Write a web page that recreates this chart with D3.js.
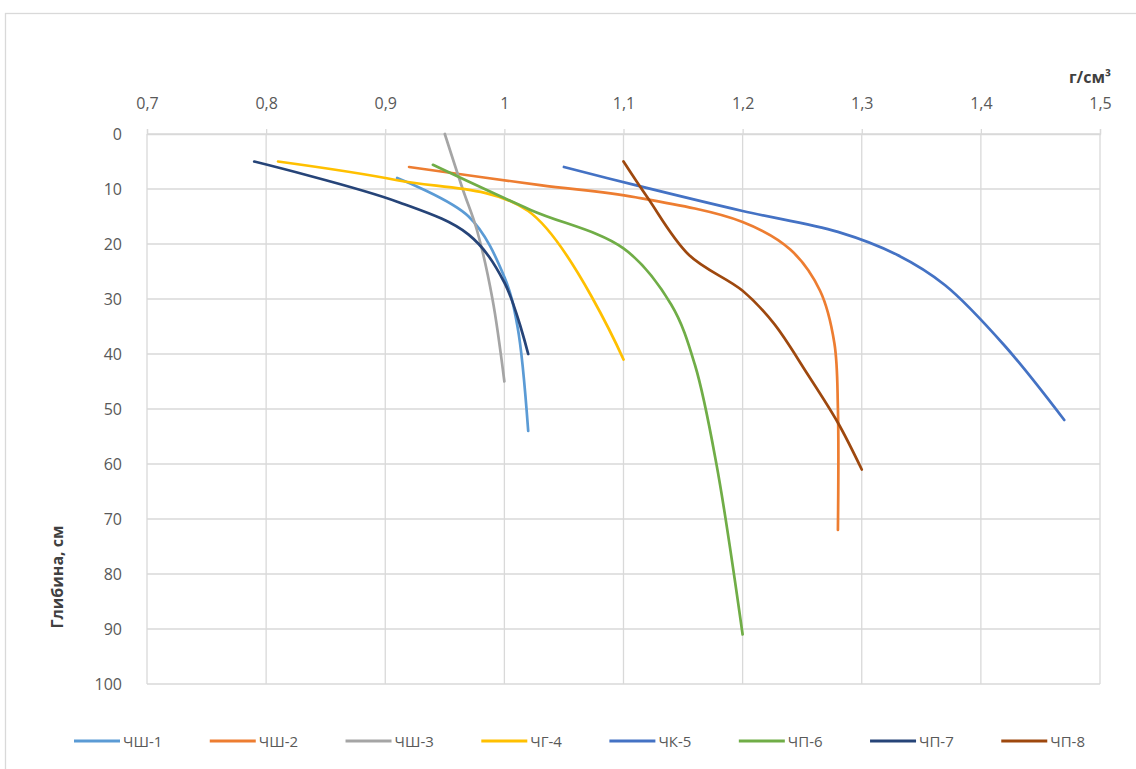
<!DOCTYPE html>
<html>
<head>
<meta charset="utf-8">
<script src="https://cdn.jsdelivr.net/npm/d3@7"></script>
<style>
  html, body { margin: 0; padding: 0; background: #fff; }
  svg { display: block; font-family: "Open Sans", "Noto Sans", sans-serif; }
</style>
</head>
<body>
<svg id="chart" width="1136" height="769"></svg>
<script>
// ---- Data ----
const seriesNames = ["ЧШ-1", "ЧШ-2", "ЧШ-3", "ЧГ-4", "ЧК-5", "ЧП-6", "ЧП-7", "ЧП-8"];
const seriesColors = ["#5B9BD5", "#ED7D31", "#A5A5A5", "#FFC000", "#4472C4", "#70AD47", "#264478", "#9E480E"];

const chsh1Density = [0.91, 0.97, 1.0, 1.011, 1.02];
const chsh1Depth   = [8, 15, 26, 35, 54];
const chsh2Density = [0.92, 1.03, 1.11, 1.2, 1.24, 1.265, 1.277, 1.28, 1.28];
const chsh2Depth   = [6, 9.3, 11.5, 16, 21, 28.5, 38, 50, 72];
const chsh3Density = [0.95, 0.965, 0.977, 0.99, 1.0];
const chsh3Depth   = [0, 10, 17.5, 30, 45];
const chg4Density  = [0.81, 0.91, 1.02, 1.1];
const chg4Depth    = [5, 8.4, 14, 41];
const chk5Density  = [1.05, 1.11, 1.2, 1.28, 1.33, 1.37, 1.42, 1.47];
const chk5Depth    = [6, 9.3, 14, 17.8, 22, 27.5, 38.5, 52];
const chp6Density  = [0.94, 1.022, 1.1, 1.14, 1.16, 1.178, 1.2];
const chp6Depth    = [5.6, 13.8, 20.8, 31, 42, 60, 91];
const chp7Density  = [0.79, 0.91, 0.97, 1.0, 1.02];
const chp7Depth    = [5, 12.3, 18.3, 27, 40];
const chp8Density  = [1.1, 1.12, 1.155, 1.2, 1.226, 1.254, 1.28, 1.3];
const chp8Depth    = [5, 11.5, 22, 28.5, 34.4, 43.5, 52.5, 61];

const seriesDensity = [chsh1Density, chsh2Density, chsh3Density, chg4Density, chk5Density, chp6Density, chp7Density, chp8Density];
const seriesDepth   = [chsh1Depth, chsh2Depth, chsh3Depth, chg4Depth, chk5Depth, chp6Depth, chp7Depth, chp8Depth];

const xTickValues = [0.7, 0.8, 0.9, 1.0, 1.1, 1.2, 1.3, 1.4, 1.5];
const xTickLabels = ["0,7", "0,8", "0,9", "1", "1,1", "1,2", "1,3", "1,4", "1,5"];
const yTickValues = [0, 10, 20, 30, 40, 50, 60, 70, 80, 90, 100];
const xAxisUnit = "г/см³";
const yAxisTitle = "Глибина, см";

// ---- Layout ----
const svg = d3.select("#chart");
const plotLeft = 147, plotRight = 1100, plotTop = 134, plotBottom = 684;
const fontStack = "'Open Sans', 'Noto Sans', sans-serif";

const x = d3.scaleLinear().domain([0.7, 1.5]).range([plotLeft, plotRight]);
const y = d3.scaleLinear().domain([0, 100]).range([plotTop, plotBottom]);

// chart border
svg.append("rect")
  .attr("x", 5.5).attr("y", 13.5)
  .attr("width", 1140).attr("height", 770)
  .attr("fill", "#fff").attr("stroke", "#d9d9d9").attr("stroke-width", 1.3);

// gridlines
const grid = svg.append("g");
grid.selectAll("line.h").data(yTickValues).join("line")
  .attr("class", "h")
  .attr("x1", plotLeft).attr("x2", plotRight)
  .attr("y1", d => y(d)).attr("y2", d => y(d))
  .attr("stroke", "#d9d9d9").attr("stroke-width", 1.3);
grid.selectAll("line.v").data(xTickValues).join("line")
  .attr("class", "v")
  .attr("x1", d => x(d)).attr("x2", d => x(d))
  .attr("y1", plotTop).attr("y2", plotBottom)
  .attr("stroke", "#d9d9d9").attr("stroke-width", 1.3);

// top axis
const xAxis = d3.axisTop(x)
  .tickValues(xTickValues)
  .tickFormat((d, i) => xTickLabels[i])
  .tickSize(5).tickPadding(20);
const gx = svg.append("g").attr("transform", `translate(0,${plotTop})`).call(xAxis);
gx.select(".domain").attr("stroke", "#d9d9d9").attr("stroke-width", 1.3);
gx.selectAll(".tick line").attr("stroke", "#d9d9d9").attr("stroke-width", 1.3);
gx.selectAll(".tick text").attr("fill", "#595959").attr("font-size", 16)
  .attr("font-family", fontStack);

// left axis
const yAxis = d3.axisLeft(y).tickValues(yTickValues).tickSize(0).tickPadding(25);
const gy = svg.append("g").attr("transform", `translate(${plotLeft},0)`).call(yAxis);
gy.select(".domain").remove();
gy.selectAll(".tick text").attr("fill", "#595959").attr("font-size", 16)
  .attr("font-family", fontStack);

// axis titles
svg.append("text")
  .attr("x", 1090).attr("y", 83)
  .attr("text-anchor", "middle")
  .attr("font-size", 16).attr("font-weight", "bold").attr("fill", "#404040")
  .text(xAxisUnit);
svg.append("text")
  .attr("transform", "translate(63,577) rotate(-90)")
  .attr("text-anchor", "middle")
  .attr("font-size", 16).attr("font-weight", "bold").attr("fill", "#404040")
  .text(yAxisTitle);

// series lines
const line = d3.line()
  .x(d => x(d[0])).y(d => y(d[1]))
  .curve(d3.curveCatmullRom.alpha(0.5));

const plot = svg.append("g");
seriesNames.forEach((name, i) => {
  const pts = seriesDensity[i].map((v, j) => [v, seriesDepth[i][j]]);
  plot.append("path")
    .datum(pts)
    .attr("d", line)
    .attr("fill", "none")
    .attr("stroke", seriesColors[i])
    .attr("stroke-width", 2.7)
    .attr("stroke-linecap", "round");
});

// legend
const legendY = 741;
const legend = svg.append("g");
const lineLen = 46, gapText = 3;
const items = seriesNames.map((name, i) => {
  const g = legend.append("g");
  g.append("line").attr("x1", 0).attr("x2", lineLen).attr("y1", 0).attr("y2", 0)
    .attr("stroke", seriesColors[i]).attr("stroke-width", 2.8);
  const t = g.append("text").attr("x", lineLen + gapText).attr("y", 5.5)
    .attr("font-size", 15).attr("fill", "#595959").text(name);
  return { g, w: lineLen + gapText + t.node().getComputedTextLength() };
});
const legStart = 74, legEnd = 1085;
const totalW = d3.sum(items, d => d.w);
const gap = (legEnd - legStart - totalW) / (items.length - 1);
let cx = legStart;
items.forEach(it => {
  it.g.attr("transform", `translate(${cx},${legendY})`);
  cx += it.w + gap;
});
</script>
</body>
</html>
